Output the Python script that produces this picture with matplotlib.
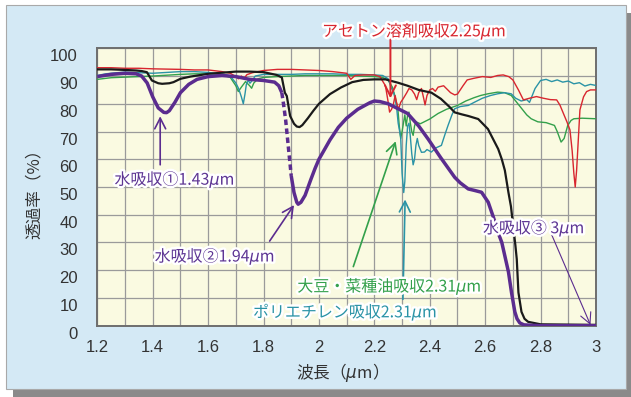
import matplotlib

matplotlib.use("Agg")
import matplotlib.pyplot as plt
import matplotlib.patheffects as pe
from matplotlib.patches import Rectangle
from matplotlib.transforms import ScaledTranslation

plt.rcParams["font.family"] = ["Noto Sans CJK JP", "DejaVu Sans"]
plt.rcParams["mathtext.fontset"] = "dejavusans"

# --- data (wavelength um, transmittance %) ---
wl_water_a = [1.20, 1.25, 1.30, 1.34, 1.36, 1.38, 1.40, 1.42, 1.44, 1.45, 1.46, 1.48, 1.50,
              1.53, 1.56, 1.60, 1.65, 1.70, 1.75, 1.80, 1.84, 1.855, 1.866]
tr_water_a = [89.8, 90.6, 91.0, 90.8, 90.0, 87.5, 82.5, 78.5, 76.9, 76.8, 77.5, 80.5, 84.0,
              87.0, 88.8, 89.8, 90.2, 89.8, 88.8, 88.4, 87.8, 86.5, 84.0]
wl_water_dash = [1.866, 1.872, 1.88, 1.89, 1.90]
tr_water_dash = [84.0, 80.0, 74.0, 64.0, 54.0]
wl_water_b = [1.90, 1.91, 1.92, 1.925, 1.935, 1.95, 1.97, 1.986, 2.00, 2.04, 2.07, 2.10, 2.14,
              2.184, 2.20, 2.22, 2.25, 2.28, 2.32, 2.36, 2.394, 2.44, 2.49, 2.51, 2.539,
              2.56, 2.587, 2.611, 2.63, 2.645, 2.66, 2.684, 2.695, 2.707, 2.715, 2.725, 2.74,
              2.80, 3.00]
tr_water_b = [54.0, 48.0, 44.5, 43.8, 44.5, 47.0, 52.5, 56.7, 60.0, 67.0, 71.5, 74.8, 78.0,
              80.4, 81.0, 80.8, 80.0, 78.5, 76.5, 72.0, 67.3, 60.5, 53.5, 51.5, 49.3,
              48.8, 48.1, 44.5, 39.0, 34.0, 30.0, 19.4, 12.0, 5.0, 2.5, 1.0, 0.3,
              0.0, 0.0]

wl_glass = [1.20, 1.25, 1.30, 1.34, 1.36, 1.379, 1.397, 1.42, 1.434, 1.46, 1.475, 1.50, 1.536,
            1.60, 1.65, 1.70, 1.75, 1.80, 1.847, 1.866, 1.877, 1.884, 1.896, 1.91, 1.92,
            1.93, 1.94, 1.96, 1.98, 2.00, 2.04, 2.08, 2.12, 2.16, 2.20, 2.24, 2.285, 2.32,
            2.36, 2.406, 2.44, 2.47, 2.49, 2.515, 2.539, 2.575, 2.61, 2.63, 2.647, 2.66,
            2.671, 2.684, 2.693, 2.701, 2.709, 2.714, 2.72, 2.731, 2.742, 2.755, 2.80, 3.00]
tr_glass = [92.4, 92.4, 92.2, 92.0, 91.8, 91.4, 88.4, 87.4, 87.2, 87.4, 87.8, 89.0, 89.8,
            90.8, 91.2, 91.6, 91.6, 91.4, 90.4, 89.5, 84.0, 82.8, 75.6, 72.8, 71.8,
            71.6, 72.3, 74.8, 77.5, 80.0, 83.5, 85.9, 87.8, 88.6, 88.8, 88.8, 87.6, 86.5,
            85.0, 84.0, 81.8, 79.0, 76.9, 76.2, 75.6, 74.5, 70.9, 67.0, 63.7, 60.0,
            56.0, 48.0, 43.0, 36.0, 29.0, 24.0, 12.0, 5.0, 2.5, 1.4, 0.5, 0.3]

wl_acetone = [1.20, 1.25, 1.30, 1.35, 1.40, 1.45, 1.50, 1.55, 1.60, 1.65, 1.68, 1.70, 1.71,
              1.72, 1.73, 1.74, 1.76, 1.80, 1.85, 1.90, 1.95, 2.00, 2.05, 2.10, 2.115,
              2.13, 2.16, 2.20, 2.22, 2.24, 2.25, 2.255, 2.262, 2.268, 2.275, 2.28, 2.287,
              2.295, 2.305, 2.317, 2.325, 2.335, 2.345, 2.353, 2.36, 2.37, 2.378, 2.383,
              2.39, 2.40, 2.41, 2.42, 2.43, 2.45, 2.465, 2.475, 2.49, 2.50, 2.52, 2.535,
              2.56, 2.59, 2.62, 2.645, 2.665, 2.685, 2.70, 2.72, 2.738, 2.76, 2.785, 2.81,
              2.835, 2.858, 2.87, 2.882, 2.895, 2.906, 2.914, 2.92, 2.925, 2.93, 2.935,
              2.942, 2.955, 2.966, 2.98, 3.00]
tr_acetone = [93.0, 93.0, 92.8, 92.8, 92.6, 92.5, 92.4, 92.2, 92.2, 91.6, 91.0, 89.8, 89.0,
              90.0, 89.2, 90.5, 91.2, 92.0, 92.4, 92.4, 92.2, 92.0, 91.6, 91.0, 88.8,
              90.2, 90.4, 90.4, 89.8, 86.5, 80.5, 77.0, 78.0, 79.5, 83.0, 80.5, 78.0,
              80.5, 82.0, 84.0, 85.5, 85.0, 83.5, 81.5, 84.0, 85.5, 82.0, 79.6,
              83.0, 85.0, 85.5, 84.5, 86.0, 86.5, 85.0, 84.0, 83.2, 83.5, 86.5, 88.6,
              89.2, 89.8, 89.5, 90.2, 90.4, 89.8, 88.6, 85.0, 81.4, 82.0, 82.6, 82.0,
              81.5, 81.4, 79.5, 76.6, 73.5, 70.6, 63.0, 55.0, 50.0, 56.0, 65.0,
              77.8, 82.5, 84.4, 85.0, 85.0]

wl_pe = [1.20, 1.23, 1.27, 1.30, 1.35, 1.40, 1.45, 1.50, 1.55, 1.60, 1.65, 1.68, 1.70, 1.71,
         1.72, 1.727, 1.733, 1.738, 1.745, 1.751, 1.76, 1.77, 1.80, 1.85, 1.90, 1.95, 2.00,
         2.05, 2.10, 2.15, 2.20, 2.23, 2.25, 2.26, 2.27, 2.28, 2.286, 2.295, 2.30, 2.306,
         2.31, 2.315, 2.32, 2.325, 2.33, 2.335, 2.34, 2.345, 2.35, 2.355, 2.36, 2.37, 2.381,
         2.39, 2.406, 2.42, 2.442, 2.455, 2.466, 2.48, 2.49, 2.51, 2.539, 2.56, 2.59, 2.62,
         2.645, 2.67, 2.694, 2.71, 2.73, 2.75, 2.76, 2.77, 2.78, 2.80, 2.82, 2.84, 2.86,
         2.88, 2.90, 2.92, 2.94, 2.96, 2.98, 3.00]
tr_pe = [90.2, 90.8, 91.2, 91.4, 91.2, 91.0, 91.3, 91.6, 91.6, 91.3, 90.8, 90.0, 87.5, 85.5,
         82.5, 80.0, 83.5, 87.0, 88.5, 87.4, 88.5, 90.0, 90.6, 90.6, 90.6, 90.8, 90.8,
         90.8, 90.6, 90.6, 90.4, 90.2, 89.0, 86.0, 84.0, 79.0, 73.0, 68.0, 55.0, 48.0,
         52.0, 65.0, 72.0, 73.0, 68.0, 62.0, 58.0, 60.0, 65.0, 67.5, 65.0, 62.5, 62.6,
         63.5, 62.6, 64.0, 65.0, 69.0, 72.2, 76.0, 78.2, 79.0, 79.4, 80.5, 82.0, 83.0,
         83.6, 84.0, 83.6, 82.0, 81.0, 81.5, 80.5, 83.0, 85.5, 88.4, 88.8, 88.0, 88.6,
         87.8, 88.2, 87.2, 87.6, 86.4, 87.0, 86.6]

wl_oil = [1.20, 1.25, 1.30, 1.35, 1.40, 1.45, 1.50, 1.55, 1.60, 1.65, 1.68, 1.70, 1.709,
          1.72, 1.735, 1.75, 1.757, 1.765, 1.78, 1.80, 1.85, 1.90, 1.95, 2.00, 2.05, 2.10,
          2.15, 2.20, 2.23, 2.25, 2.265, 2.275, 2.285, 2.29, 2.295, 2.30, 2.305, 2.31,
          2.315, 2.32, 2.325, 2.33, 2.335, 2.34, 2.345, 2.35, 2.366, 2.40, 2.43, 2.46,
          2.50, 2.53, 2.56, 2.584, 2.61, 2.645, 2.67, 2.694, 2.71, 2.73, 2.75, 2.766,
          2.79, 2.82, 2.85, 2.86, 2.874, 2.885, 2.898, 2.91, 2.92, 2.95, 3.00]
tr_oil = [88.8, 89.4, 89.6, 89.8, 90.0, 90.3, 90.6, 90.8, 90.8, 90.5, 89.5, 86.5, 84.4,
          86.0, 88.0, 86.5, 85.6, 87.5, 89.0, 89.5, 89.8, 90.0, 90.2, 90.2, 90.2, 90.2,
          90.0, 89.8, 89.5, 88.5, 86.0, 82.5, 78.0, 72.0, 67.5, 70.0, 73.0, 76.0,
          72.0, 76.0, 77.0, 73.0, 70.0, 68.6, 72.0, 73.5, 72.8, 74.5, 76.5, 78.0,
          79.4, 81.0, 82.2, 83.0, 83.6, 84.2, 84.0, 83.0, 81.0, 78.5, 76.0, 74.6,
          73.5, 73.2, 72.2, 70.0, 66.2, 67.5, 72.2, 74.0, 74.6, 74.8, 74.6]

x_ticks = [1.2, 1.4, 1.6, 1.8, 2.0, 2.2, 2.4, 2.6, 2.8, 3.0]
x_tick_labels = ["1.2", "1.4", "1.6", "1.8", "2", "2.2", "2.4", "2.6", "2.8", "3"]
y_ticks = [0, 10, 20, 30, 40, 50, 60, 70, 80, 90, 100]

PURPLE = "#5b2c8f"
PURPLE_TXT = "#5e3694"
RED = "#d8262f"
TEAL = "#2a93a6"
GREEN = "#33a04b"
BLACK = "#1a1a1a"

fig = plt.figure(figsize=(6.31, 3.97), dpi=100, facecolor="white")

# panel with drop shadow
fig.patches.append(Rectangle((13 / 631, -0.05), 1.1, 1 - 13 / 397 + 0.05, transform=fig.transFigure,
                             facecolor="#8a8a8a", edgecolor="none", zorder=-3))
fig.patches.append(Rectangle((6 / 631, 1 - 389 / 397), 620 / 631, 384 / 397, transform=fig.transFigure,
                             facecolor="#d4e9f5", edgecolor="#a9a9a9", linewidth=0.8, zorder=-2))

ax = fig.add_axes([97.3 / 631, 1 - 325.7 / 397, 498.7 / 631, 277.4 / 397])
ax.set_facecolor("#fafae1")

ax.plot(wl_oil, tr_oil, color=GREEN, lw=1.0, zorder=3)
ax.plot(wl_pe, tr_pe, color=TEAL, lw=1.0, zorder=3)
ax.plot(wl_acetone, tr_acetone, color=RED, lw=1.0, zorder=4)
ax.plot(wl_glass, tr_glass, color=BLACK, lw=1.6, zorder=5)
ax.plot(wl_water_a, tr_water_a, color=PURPLE, lw=2.5, zorder=6, solid_capstyle="butt")
ax.plot(wl_water_dash, tr_water_dash, color=PURPLE, lw=2.5, zorder=6, linestyle=(0, (1.6, 1.0)))
ax.plot(wl_water_b, tr_water_b, color=PURPLE, lw=2.5, zorder=6, solid_capstyle="butt")

ax.set_xlim(1.2, 3.0)
ax.set_ylim(0, 100)
ax.set_xticks(x_ticks)
ax.set_xticklabels(x_tick_labels)
ax.set_xticks([t / 10 for t in range(12, 31)], minor=True)
ax.set_yticks(y_ticks)
ax.grid(which="both", color="#9a9a9a", lw=0.9, zorder=1)
ax.set_axisbelow(True)
ax.tick_params(which="both", length=0, labelfontfamily="Liberation Sans")
ax.tick_params(axis="x", pad=10, labelsize=12, labelcolor="#333333")
ax.tick_params(axis="y", pad=14, labelsize=12, labelcolor="#333333")
for spine in ax.spines.values():
    spine.set_color("#6e6e6e")
    spine.set_linewidth(1.4)

shift = ScaledTranslation(0, -0.07, fig.dpi_scale_trans)
for label in ax.get_yticklabels():
    label.set_transform(label.get_transform() + shift)

fig.text(338 / 631, 1 - 372 / 397, "波長（$\\mu$m）", fontsize=12, color="#333333",
         ha="center", va="center")
fig.text(34 / 631, 1 - 190 / 397, "透過率（%）", fontsize=12, color="#333333",
         ha="center", va="center", rotation=90)

halo = [pe.withStroke(linewidth=3.5, foreground="white")]
notes = [
    ("アセトン溶剤吸収2.25$\\mu$m", 2.011, 106.3, RED),
    ("水吸収①1.43$\\mu$m", 1.262, 52.8, PURPLE_TXT),
    ("水吸収②1.94$\\mu$m", 1.407, 25.1, PURPLE_TXT),
    ("水吸収③ 3$\\mu$m", 2.592, 35.3, PURPLE_TXT),
    ("大豆・菜種油吸収2.31$\\mu$m", 1.922, 14.3, GREEN),
    ("ポリエチレン吸収2.31$\\mu$m", 1.762, 5.0, TEAL),
]
arrows = [
    ((2.258, 106.0), (2.258, 82.0), RED, 1.4),
    ((1.427, 58.0), (1.427, 75.5), PURPLE, 1.2),
    ((1.822, 30.5), (1.91, 43.5), PURPLE, 1.2),
    ((2.84, 32.8), (2.98, 0.3), PURPLE, 0.8),
    ((2.124, 21.3), (2.277, 66.5), GREEN, 1.2),
    ((2.303, 9.5), (2.311, 45.5), TEAL, 1.2),
]
for (x0, y0), (x1, y1), color, lw in arrows:
    ax.annotate("", xy=(x1, y1), xytext=(x0, y0), annotation_clip=False, zorder=7,
                arrowprops=dict(arrowstyle="->,head_length=0.55,head_width=0.28", color=color,
                                lw=lw, shrinkA=0, shrinkB=0, mutation_scale=14))
for text, x, y, color in notes:
    ax.text(x, y, text, color=color, fontsize=11.5, ha="left", va="center",
            path_effects=halo, zorder=8, clip_on=False)

fig.savefig("out.png", dpi=100, facecolor="white")
